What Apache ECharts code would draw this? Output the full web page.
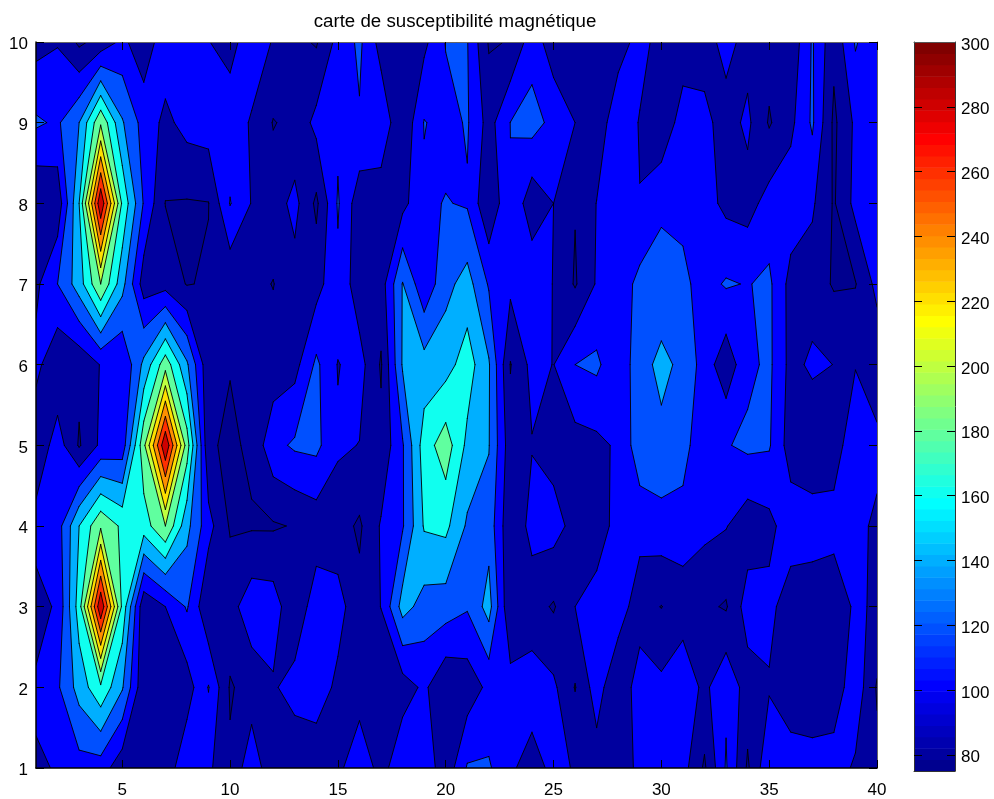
<!DOCTYPE html>
<html><head><meta charset="utf-8">
<style>html,body{margin:0;padding:0;background:#fff}#c{width:994px;height:799px}</style>
<script src="https://cdn.jsdelivr.net/npm/echarts@6/dist/echarts.min.js"></script>
</head><body><div id="c"></div>
<script>
const titleText = 'carte de susceptibilité magnétique';
const xTicks = [5,10,15,20,25,30,35,40];
const yTicks = [1,2,3,4,5,6,7,8,9,10];
const barTicks = [80,100,120,140,160,180,200,220,240,260,280,300];
const levels = [75,80,100,120,140,160,180,200,220,240,260,280];
const row1  = [98,101,112,110,87,80,88,115,104,83,114,84,85,85,94,117,91,117,115,86,122,122.5,103,92,105,98.6,90,92,103.4,105,107.7,77,122,77,116.6,112,112,109.4,97,85];
const row2  = [103,117,148,176,142,84,85,90,121,78,88,97.6,108,112,95,88,85,90,104,82,88,105,108,110,104,79,110,80.5,113,105,114,95,116.6,90,98,85,80,88,113,78];
const row3  = [92,103,170,298,175,84,100,122,82,92.6,112,110,84,112,108,86,100.4,148,132,130,122,148,81,88,78,100,108,112,87,79.5,90,84,78,110,106,88,85,85,104,96.5];
const row4  = [108,110.6,160,197,176,170,200,146,107,78,78,78,81.3,88,88,77,102,118,162,165,137,132,83,107,108,93,90,107,108,112,110,105,101,88,94,112,112,108,106,96];
const row5  = [84,110,78,104,108,195,298,190,83,76,84,114,123,125,103,99.5,85,118,170,191,155,141,88,99,92,92,95,103,132,135,130,100,118.6,124,122,90,82,90,114,106];
const row6  = [106,83,85,101,101,145,192,143,85,81,88,88,93,124,99,108,78,142,148,152,170,142,79,106,99.5,120,124,104,133,145,135.5,111,86.6,115,124.2,93.5,104,99.7,99,85];
const row7  = [95.6,120,150,200,147,90,92,79,82,84,85,79.4,92,92,115.5,88,90,141,105,134,148,118,105,116,99,78,102,108,126,128,124,113,122,119,124,93,90,78,79,106];
const row8  = [80,86,160,298,176,118,79.5,78.5,79.5,121,99,90,106,76,122,88,88,94,116,121,118,82,118.7,86.5,100,81,100.5,105,100.4,116.6,115.5,108,95,92,108,112,103,78,106,108];
const row9  = [123,117,140,197,142,112,95,107,110,108,98.5,79,85,106,116,118,115,82,121,113,122,92,120.3,128,114,100,88,113,98.8,84,110,105,92,104,78,95,123,76,104,108];
const row10 = [92.6,98.7,76,87,104.5,88,112,110,100.4,95,108.5,99,85,78,106.6,124,92,88,95,121,121,78,81,111,89,85,90,92,106.5,93,88,92,106.5,93,88,85,122,85,122,105];
const rows = [row1,row2,row3,row4,row5,row6,row7,row8,row9,row10];

const cmin = 75, cmax = 300, nColors = 64;
function jet(i){
  const t = i+1;
  const f = v => Math.max(0, Math.min(1, v));
  const r = f(Math.min((t-24)/16, (72-t)/16));
  const g = f(Math.min((t-8)/16, (56-t)/16));
  const b = f(Math.min((t+8)/16, (40-t)/16));
  return 'rgb('+Math.round(r*255)+','+Math.round(g*255)+','+Math.round(b*255)+')';
}
function levelColor(L){ return jet(Math.min(nColors-1, Math.floor((L-cmin)/(cmax-cmin)*nColors))); }

function cellPieces(ix, iy, L){
  const c = [[ix,iy],[ix+1,iy],[ix+1,iy+1],[ix,iy+1]];
  const v = c.map(p => rows[p[1]][p[0]]);
  const ins = v.map(a => a >= L);
  const cnt = ins.filter(Boolean).length;
  if (cnt === 0) return {polys:[], segs:[]};
  if (cnt === 4) return {polys:[c.map(p=>[p[0]+1,p[1]+1])], segs:[]};
  const cross = (a,b) => {
    const t = (L-v[a])/(v[b]-v[a]);
    return [c[a][0]+t*(c[b][0]-c[a][0])+1, c[a][1]+t*(c[b][1]-c[a][1])+1];
  };
  const corner = a => [c[a][0]+1, c[a][1]+1];
  const saddle = cnt === 2 && ins[0] === ins[2];
  const polys = [], segs = [];
  if (saddle && (v[0]+v[1]+v[2]+v[3])/4 < L) {
    for (let a = 0; a < 4; a++) if (ins[a]) {
      const p = cross(a,(a+1)%4), q = cross(a,(a+3)%4);
      polys.push([corner(a), p, q]);
      segs.push([p,q]);
    }
    return {polys, segs};
  }
  const poly = [], pts = [];
  for (let a = 0; a < 4; a++) {
    const b = (a+1)%4;
    if (ins[a]) poly.push(corner(a));
    if (ins[a] !== ins[b]) { const p = cross(a,b); poly.push(p); pts.push(p); }
  }
  polys.push(poly);
  if (pts.length === 2) segs.push([pts[0],pts[1]]);
  else if (pts.length === 4) {
    if (!ins[0]) { segs.push([pts[3],pts[0]]); segs.push([pts[1],pts[2]]); }
    else { segs.push([pts[0],pts[1]]); segs.push([pts[2],pts[3]]); }
  }
  return {polys, segs};
}
const fmt = p => p[0].toFixed(2)+' '+p[1].toFixed(2);
function fillItem(params, api){
  const L = levels[api.value(0)];
  let d = '';
  for (let iy = 0; iy < rows.length-1; iy++) for (let ix = 0; ix < rows[0].length-1; ix++) {
    cellPieces(ix,iy,L).polys.forEach(poly => {
      d += 'M' + poly.map(p=>fmt(api.coord(p))).join('L') + 'Z';
    });
  }
  if (!d) return null;
  return {type:'path', shape:{pathData:d}, style:{fill:levelColor(L), stroke:null}};
}
function lineItem(params, api){
  const L = levels[api.value(0)];
  if (L === cmin) return null;
  let d = '';
  for (let iy = 0; iy < rows.length-1; iy++) for (let ix = 0; ix < rows[0].length-1; ix++) {
    cellPieces(ix,iy,L).segs.forEach(s => {
      d += 'M' + fmt(api.coord(s[0])) + 'L' + fmt(api.coord(s[1]));
    });
  }
  if (!d) return null;
  return {type:'path', shape:{pathData:d}, style:{fill:'none', stroke:'#000', lineWidth:0.9, lineCap:'round', lineJoin:'round'}};
}
const binData = [];
for (let i = 0; i < nColors; i++) binData.push([i]);
function barItem(params, api){
  const i = api.value(0), w = (cmax-cmin)/nColors;
  const a = api.coord([0, cmin+i*w]), b = api.coord([1, cmin+(i+1)*w]);
  return {type:'rect', shape:{x:a[0], y:b[1], width:b[0]-a[0], height:a[1]-b[1]+0.5},
    style:{fill:jet(i)}};
}
const font = {fontFamily:'Liberation Sans', fontSize:17, color:'#000'};
const chart = echarts.init(document.getElementById('c'), null, {renderer:'canvas'});
chart.setOption({
  animation:false,
  backgroundColor:'#fff',
  title:{text:titleText, left:450, top:7, textAlign:'center',
    textStyle:{fontFamily:'Liberation Sans', fontSize:18.7, fontWeight:'normal', color:'#000'}},
  grid:[{left:36, top:42, width:841, height:727},
        {left:914, top:42, width:41, height:729}],
  xAxis:[
    {type:'value', gridIndex:0, min:1, max:40, position:'bottom', z:10,
     splitLine:{show:false}, axisLine:{onZero:false, lineStyle:{color:'#000',width:1.5}},
     axisTick:{inside:true, length:8, customValues:xTicks, lineStyle:{color:'#000'}},
     axisLabel:{...font, margin:14, customValues:xTicks}},
    {type:'value', gridIndex:0, min:1, max:40, position:'top', z:10,
     splitLine:{show:false}, axisLine:{onZero:false, lineStyle:{color:'#666'}},
     axisTick:{inside:true, length:8, customValues:xTicks, lineStyle:{color:'#000'}},
     axisLabel:{show:false}},
    {type:'value', gridIndex:1, min:0, max:1, position:'bottom', z:10,
     splitLine:{show:false}, axisLine:{onZero:false, lineStyle:{color:'#333'}},
     axisTick:{show:false}, axisLabel:{show:false}},
    {type:'value', gridIndex:1, min:0, max:1, position:'top', z:10,
     splitLine:{show:false}, axisLine:{onZero:false, lineStyle:{color:'#555'}},
     axisTick:{show:false}, axisLabel:{show:false}}
  ],
  yAxis:[
    {type:'value', gridIndex:0, min:1, max:10, interval:1, position:'left', z:10,
     splitLine:{show:false}, axisLine:{onZero:false, lineStyle:{color:'#000',width:1.5}},
     axisTick:{inside:true, length:8, lineStyle:{color:'#000'}},
     axisLabel:{...font, margin:8, verticalAlign:'top', lineHeight:5, formatter:v=>yTicks.includes(v)?String(v):''}},
    {type:'value', gridIndex:0, min:1, max:10, interval:1, position:'right', z:10,
     splitLine:{show:false}, axisLine:{onZero:false, lineStyle:{color:'#666'}},
     axisTick:{inside:true, length:8, lineStyle:{color:'#000'}},
     axisLabel:{show:false}},
    {type:'value', gridIndex:1, min:cmin, max:cmax, position:'left', z:10,
     splitLine:{show:false}, axisLine:{onZero:false, lineStyle:{color:'#333'}},
     axisTick:{inside:true, length:8, customValues:barTicks.slice(0,-1), lineStyle:{color:'#000'}},
     axisLabel:{show:false}},
    {type:'value', gridIndex:1, min:cmin, max:cmax, position:'right', z:10,
     splitLine:{show:false}, axisLine:{onZero:false, lineStyle:{color:'#333'}},
     axisTick:{inside:true, length:8, customValues:barTicks.slice(0,-1), lineStyle:{color:'#000'}},
     axisLabel:{...font, margin:6, verticalAlign:'top', lineHeight:6, customValues:barTicks}}
  ],
  series:[
    {type:'custom', coordinateSystem:'cartesian2d', xAxisIndex:0, yAxisIndex:0, z:2, silent:true, clip:true,
     renderItem:fillItem, data:levels.map((l,i)=>[i]), encode:{x:[],y:[]}},
    {type:'custom', coordinateSystem:'cartesian2d', xAxisIndex:0, yAxisIndex:0, z:3, silent:true, clip:true,
     renderItem:lineItem, data:levels.map((l,i)=>[i]), encode:{x:[],y:[]}},
    {type:'custom', coordinateSystem:'cartesian2d', xAxisIndex:2, yAxisIndex:2, z:2, silent:true,
     renderItem:barItem, data:binData, encode:{x:[],y:[]}}
  ]
});
</script></body></html>
